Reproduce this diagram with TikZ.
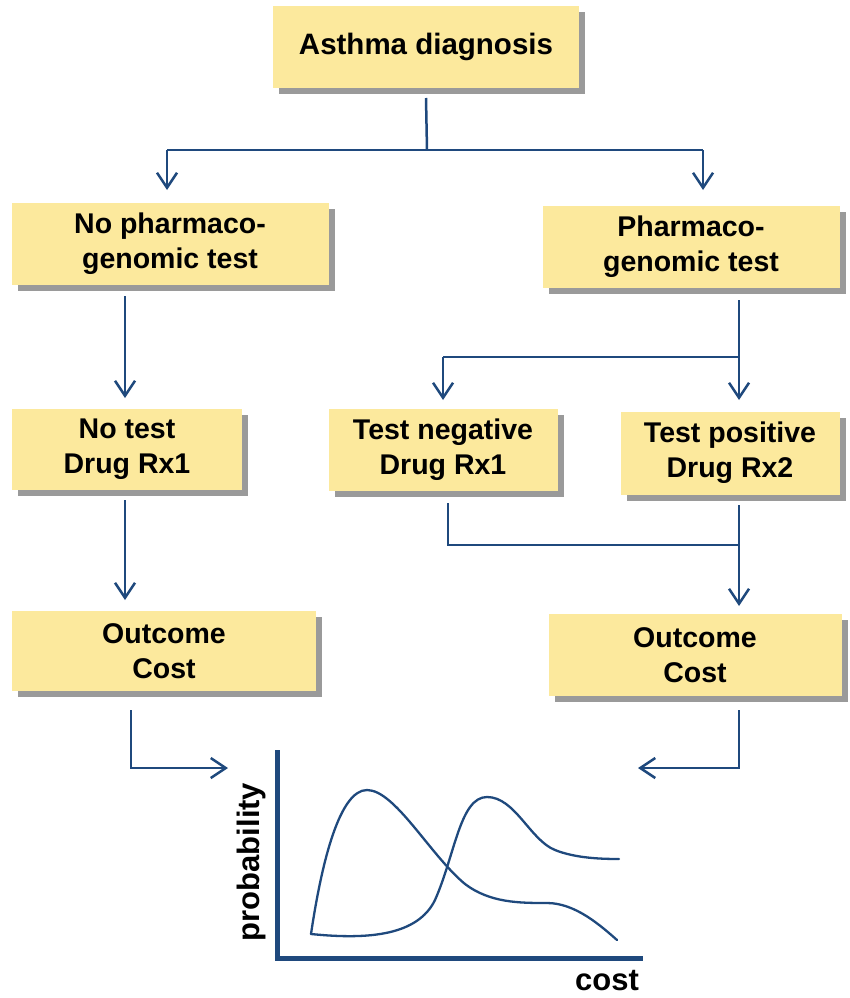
\documentclass[tikz,border=0pt]{standalone}
\usepackage{fontspec}
\setmainfont{Liberation Sans}
\usetikzlibrary{arrows.meta,shadows}
\definecolor{boxfill}{HTML}{FCE99D}
\definecolor{linkblue}{HTML}{1F497D}
\definecolor{shade}{HTML}{9A9A9A}
\begin{document}
\begin{tikzpicture}[x=1pt,y=-1pt,
  stagebox/.style={fill=boxfill, draw=none, align=center, inner sep=0pt,
    font=\fontsize{28.5}{35}\selectfont\bfseries,
    drop shadow={shadow xshift=6pt, shadow yshift=-6pt, fill=shade, opacity=1}},
  link/.style={draw=linkblue, line width=2.5pt},
  flow/.style={link, -{Straight Barb[length=15pt,width=20pt,line width=2.5pt]}},
  curve/.style={draw=linkblue, line width=2.3pt, line cap=round}]
\useasboundingbox (0,0) rectangle (850,998);

% decision stages
\node[stagebox, minimum width=306pt, minimum height=82pt,
  font=\fontsize{29.5}{35}\selectfont\bfseries] (diag) at (426,47) {Asthma diagnosis};
\node[stagebox, minimum width=317pt, minimum height=82pt] (nopgx) at (170,244) {No pharmaco-\\genomic test};
\node[stagebox, minimum width=297pt, minimum height=82pt] (pgx) at (691,247) {Pharmaco-\\genomic test};
\node[stagebox, minimum width=230pt, minimum height=81pt] (notest) at (127,449) {No test\\Drug Rx1};
\node[stagebox, minimum width=229pt, minimum height=82pt] (neg) at (443,450) {Test negative\\Drug Rx1};
\node[stagebox, minimum width=219pt, minimum height=83pt] (pos) at (730,453) {Test positive\\Drug Rx2};
\node[stagebox, minimum width=304pt, minimum height=80pt] (outl) at (164,651) {Outcome\\Cost};
\node[stagebox, minimum width=293pt, minimum height=82pt] (outr) at (695,655) {Outcome\\Cost};

% connector junctions
\coordinate (split) at (427,150);
\coordinate (pgxsplit) at (739,357);
\coordinate (merge) at (739,545);
\coordinate (lin) at (228,768);
\coordinate (rin) at (638,768);

% connectors
\draw[link] (426,98) -- (split);
\draw[link] (167,150) -- (703,150);
\draw[flow] (167,150) -- (167,190);
\draw[flow] (703,150) -- (703,190);
\draw[flow] (125,296) -- (125,398);
\draw[flow] (125,500) -- (125,600);
\draw[link] (739,300) -- (pgxsplit) -- (443,357);
\draw[flow] (pgxsplit) -- (739,400);
\draw[flow] (443,357) -- (443,400);
\draw[link] (448,503) -- (448,545) -- (merge);
\draw[flow] (739,505) -- (739,606);
\draw[flow] (131,710) -- (131,768) -- (lin);
\draw[flow] (739,710) -- (739,768) -- (rin);

% cost distribution chart
\draw[draw=linkblue, line width=5pt] (277,750) -- (277,958) -- (643,958);
\node[rotate=90, font=\fontsize{31}{36}\selectfont\bfseries] (ylab) at (251,862) {probability};
\node[font=\fontsize{31}{36}\selectfont\bfseries] (xlab) at (607,981) {cost};
\draw[curve] (311,934) .. controls (322,860) and (340,790) .. (367,790)
  .. controls (395,790) and (430,855) .. (465,884)
  .. controls (490,903) and (520,903) .. (547,903)
  .. controls (575,903) and (600,925) .. (617,940);
\draw[curve] (311,934) .. controls (370,940) and (418,935) .. (435,900)
  .. controls (455,855) and (460,797) .. (487,797)
  .. controls (515,797) and (530,840) .. (555,850)
  .. controls (575,858) and (600,859) .. (619,859);
\end{tikzpicture}
\end{document}
